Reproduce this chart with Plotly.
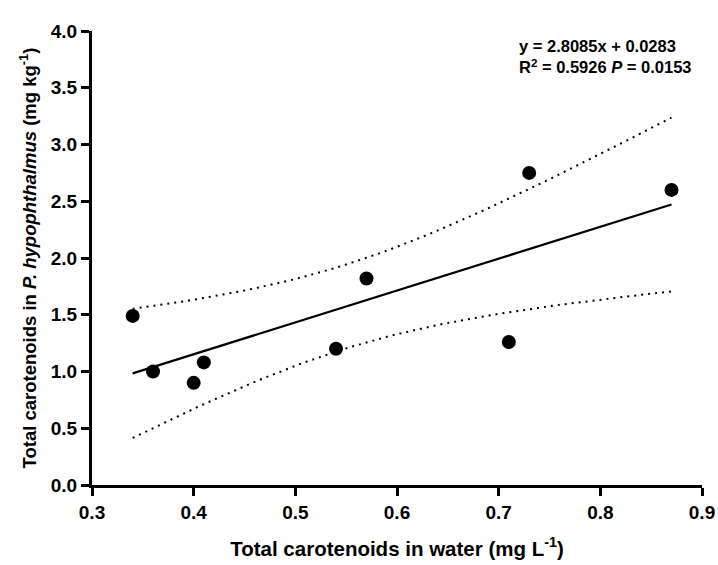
import numpy as np
import plotly.graph_objects as go

# Data
water = [0.34, 0.36, 0.40, 0.41, 0.54, 0.57, 0.71, 0.73, 0.87]
fish = [1.49, 1.00, 0.90, 1.08, 1.20, 1.82, 1.26, 2.75, 2.60]

# Regression reported on the chart
slope = 2.8085
intercept = 0.0283
r2_text = "0.5926"
p_text = "0.0153"
t_crit = 2.3646  # t(0.975, df=7)

x_ticks = [0.3, 0.4, 0.5, 0.6, 0.7, 0.8, 0.9]
y_ticks = [0.0, 0.5, 1.0, 1.5, 2.0, 2.5, 3.0, 3.5, 4.0]

xa = np.array(water)
ya = np.array(fish)
n = len(xa)
xfit = np.linspace(xa.min(), xa.max(), 60)
yfit = slope * xfit + intercept
resid = ya - (slope * xa + intercept)
s = np.sqrt(np.sum(resid ** 2) / (n - 2))
sxx = np.sum((xa - xa.mean()) ** 2)
half = t_crit * s * np.sqrt(1.0 / n + (xfit - xa.mean()) ** 2 / sxx)

FONT = "Arial, Liberation Sans, sans-serif"
DOT = "2px,5px"

fig = go.Figure()
fig.add_trace(go.Scatter(x=xfit, y=yfit + half, mode="lines",
                         line=dict(color="black", width=2, dash=DOT),
                         hoverinfo="skip", showlegend=False))
fig.add_trace(go.Scatter(x=xfit, y=yfit - half, mode="lines",
                         line=dict(color="black", width=2, dash=DOT),
                         hoverinfo="skip", showlegend=False))
fig.add_trace(go.Scatter(x=xfit, y=yfit, mode="lines",
                         line=dict(color="black", width=2.2),
                         showlegend=False))
fig.add_trace(go.Scatter(x=water, y=fish, mode="markers",
                         marker=dict(color="black", size=14),
                         showlegend=False))

fig.update_layout(
    width=718, height=565,
    margin=dict(l=92, r=16, t=31, b=80),
    plot_bgcolor="white", paper_bgcolor="white",
    font=dict(family=FONT, color="black"),
    xaxis=dict(
        range=[0.3, 0.9], tickvals=x_ticks,
        ticktext=[f"<b>{v:.1f}</b>" for v in x_ticks],
        showline=True, linecolor="black", linewidth=3,
        ticks="outside", ticklen=8, tickwidth=2.5, tickcolor="black",
        showgrid=False, zeroline=False, automargin=False,
        tickfont=dict(size=19, family=FONT, color="black"),
        title=dict(text="<b>Total carotenoids in water (mg L<sup>-1</sup>)</b>",
                   font=dict(size=20.5, family=FONT), standoff=20),
    ),
    yaxis=dict(
        range=[0, 4], tickvals=y_ticks,
        ticktext=[f"<b>{v:.1f}</b>" for v in y_ticks],
        showline=True, linecolor="black", linewidth=3,
        ticks="outside", ticklen=8, tickwidth=2.5, tickcolor="black",
        showgrid=False, zeroline=False, automargin=False,
        tickfont=dict(size=19, family=FONT, color="black"),
        title=dict(text="<b>Total carotenoids in <i>P. hypophthalmus</i> (mg kg<sup>-1</sup>)</b>",
                   font=dict(size=18.5, family=FONT), standoff=10),
    ),
)

fig.add_annotation(
    xref="paper", yref="paper", x=0.697, y=0.992, xanchor="left", yanchor="top",
    align="left", showarrow=False,
    text=f"<b>y = {slope}x + {intercept}</b><br><b>R<sup>2</sup> = {r2_text} <i>P</i> = {p_text}</b>",
    font=dict(size=16.5, family=FONT, color="black"),
)

fig.write_html("out.html")
